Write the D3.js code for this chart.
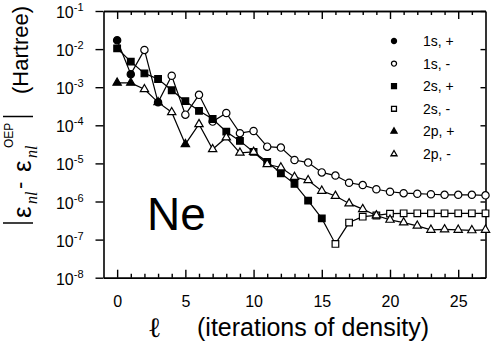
<!DOCTYPE html>
<html>
<head>
<meta charset="utf-8">
<script src="https://cdn.jsdelivr.net/npm/d3@7/dist/d3.min.js"></script>
<style>
  html, body { margin: 0; padding: 0; background: #fff; }
  svg { display: block; font-family: "Liberation Sans", Arial, Helvetica, sans-serif; }
</style>
</head>
<body>
<svg id="chart" width="491" height="362"></svg>
<script>
// iterations of density
const iterations = [0, 1, 2, 3, 4, 5, 6, 7, 8, 9, 10, 11, 12, 13, 14, 15, 16, 17, 18, 19, 20, 21, 22, 23, 24, 25, 26, 27];

// |eps_nl - eps_nl^OEP| in Hartree
const values1s = [1.7e-2, 2.2e-3, 9.5e-3, 4.0e-4, 2.0e-3, 1.9e-4, 6.3e-4, 1.25e-4, 2.1e-4, 6.2e-5,
  7.1e-5, 2.75e-5, 2.6e-5, 1.23e-5, 1.05e-5, 5.8e-6, 4.8e-6, 3.1e-6, 2.7e-6, 2.1e-6,
  1.8e-6, 1.65e-6, 1.6e-6, 1.55e-6, 1.5e-6, 1.5e-6, 1.5e-6, 1.45e-6];
const values2s = [1.05e-2, 4.7e-3, 2.3e-3, 1.64e-3, 8.3e-4, 4.3e-4, 2.4e-4, 1.46e-4, 6.8e-5, 3.9e-5,
  2.0e-5, 1.1e-5, 5.5e-6, 2.9e-6, 1.05e-6, 3.6e-7, 7.7e-8, 2.8e-7, 4.0e-7, 4.3e-7,
  4.8e-7, 4.9e-7, 4.9e-7, 4.9e-7, 4.9e-7, 4.9e-7, 4.9e-7, 4.9e-7];
const values2p = [1.3e-3, 1.3e-3, 8.8e-4, 4.0e-4, 2.2e-4, 3.2e-5, 1.07e-4, 2.35e-5, 4.8e-5, 1.9e-5,
  2.0e-5, 9.5e-6, 7.8e-6, 4.4e-6, 3.6e-6, 1.9e-6, 1.4e-6, 8.9e-7, 6.3e-7, 4.3e-7,
  3.3e-7, 2.8e-7, 2.3e-7, 1.8e-7, 1.85e-7, 1.8e-7, 1.75e-7, 1.8e-7];

// sign of the difference at each iteration (+ filled, - open)
const signs1s = ["+", "+", "-", "+", "-", "-", "-", "-", "-", "-", "-", "-", "-", "-",
  "-", "-", "-", "-", "-", "-", "-", "-", "-", "-", "-", "-", "-", "-"];
const signs2s = ["+", "+", "+", "+", "+", "+", "+", "+", "+", "+", "+", "+", "+", "+",
  "+", "+", "-", "-", "-", "-", "-", "-", "-", "-", "-", "-", "-", "-"];
const signs2p = ["+", "+", "-", "+", "-", "+", "-", "-", "-", "-", "-", "-", "-", "-",
  "-", "-", "-", "-", "-", "-", "-", "-", "-", "-", "-", "-", "-", "-"];

// axis ticks
const xMajorTicks = [0, 5, 10, 15, 20, 25];
const xMinorTicks = [1, 2, 3, 4, 6, 7, 8, 9, 11, 12, 13, 14, 16, 17, 18, 19, 21, 22, 23, 24, 26];
const yExponents = [-1, -2, -3, -4, -5, -6, -7, -8];

const legendLabels = ["1s, +", "1s, -", "2s, +", "2s, -", "2p, +", "2p, -"];

const svg = d3.select("#chart");
const margin = { left: 103.5, right: 485.5, top: 11, bottom: 277.7 };

const x = d3.scaleLinear().domain([-1, 27]).range([margin.left, margin.right]);
const y = d3.scaleLog().domain([1e-8, 1e-1]).range([margin.bottom, margin.top]);
const decades = yExponents.map(e => Math.pow(10, e));

// 坐标轴
function styleAxis(g) {
  g.selectAll("path, line").attr("stroke", "#000").attr("stroke-width", 1.4);
  g.select(".domain").attr("stroke-width", 1.6);
}

// bottom
svg.append("g")
  .attr("transform", `translate(0,${margin.bottom})`)
  .call(d3.axisBottom(x).tickValues(xMinorTicks).tickSizeInner(-4).tickSizeOuter(0).tickFormat(""))
  .call(styleAxis);
svg.append("g")
  .attr("transform", `translate(0,${margin.bottom})`)
  .call(d3.axisBottom(x).tickValues(xMajorTicks).tickSizeInner(-8).tickSizeOuter(0).tickPadding(17.5))
  .call(styleAxis)
  .call(g => g.selectAll("text")
    .attr("font-size", 16)
    .attr("font-family", "Liberation Sans, Arial, sans-serif")
    .attr("fill", "#000"));

// top
svg.append("g")
  .attr("transform", `translate(0,${margin.top})`)
  .call(d3.axisTop(x).tickValues(xMinorTicks).tickSizeInner(-4).tickSizeOuter(0).tickFormat(""))
  .call(styleAxis);
svg.append("g")
  .attr("transform", `translate(0,${margin.top})`)
  .call(d3.axisTop(x).tickValues(xMajorTicks).tickSizeInner(-8).tickSizeOuter(0).tickFormat(""))
  .call(styleAxis);

// left
const leftAxis = svg.append("g")
  .attr("transform", `translate(${margin.left},0)`)
  .call(d3.axisLeft(y).tickValues(decades).tickSizeInner(8).tickSizeOuter(0).tickFormat(""))
  .call(styleAxis);
leftAxis.selectAll(".tick").each(function(d) {
  const t = d3.select(this).append("text")
    .attr("x", -20)
    .attr("y", 6.5)
    .attr("text-anchor", "end")
    .attr("fill", "#000")
    .attr("font-size", 16);
  t.append("tspan").text("10");
  t.append("tspan")
    .attr("font-size", 11)
    .attr("dy", -7)
    .text(Math.round(Math.log10(d)));
});

// right
svg.append("g")
  .attr("transform", `translate(${margin.right},0)`)
  .call(d3.axisRight(y).tickValues(decades).tickSizeInner(-5).tickSizeOuter(0).tickFormat(""))
  .call(styleAxis);

// 数据线与标记
const series = [
  { values: values1s, signs: signs1s, symbol: d3.symbolCircle, size: 42, legendSize: 20 },
  { values: values2s, signs: signs2s, symbol: d3.symbolSquare, size: 44, legendSize: 24 },
  { values: values2p, signs: signs2p, symbol: d3.symbolTriangle, size: 30, legendSize: 16 }
];

const line = d3.line()
  .x(d => x(d.i))
  .y(d => y(d.v));

const plot = svg.append("g");
series.forEach(s => {
  const pts = iterations.map((it, k) => ({ i: it, v: s.values[k], sign: s.signs[k] }));
  plot.append("path")
    .datum(pts)
    .attr("d", line)
    .attr("fill", "none")
    .attr("stroke", "#000")
    .attr("stroke-width", 1.2);
  plot.selectAll(null)
    .data(pts)
    .join("path")
    .attr("d", d3.symbol().type(s.symbol).size(s.size))
    .attr("transform", d => `translate(${x(d.i)},${y(d.v)})`)
    .attr("fill", d => (d.sign === "+" ? "#000" : "#fff"))
    .attr("stroke", "#000")
    .attr("stroke-width", 1.2);
});

// legend
const legend = svg.append("g");
legendLabels.forEach((label, k) => {
  const s = series[Math.floor(k / 2)];
  const filled = label.trim().endsWith("+");
  const cy = 41 + k * 22.6;
  legend.append("path")
    .attr("d", d3.symbol().type(s.symbol).size(s.legendSize))
    .attr("transform", `translate(394,${cy})`)
    .attr("fill", filled ? "#000" : "#fff")
    .attr("stroke", "#000")
    .attr("stroke-width", 1.3);
  legend.append("text")
    .attr("x", 423)
    .attr("y", cy + 5)
    .attr("font-size", 14)
    .attr("fill", "#000")
    .text(label);
});

// Ne
svg.append("text")
  .attr("x", 147)
  .attr("y", 230)
  .attr("font-size", 46)
  .attr("fill", "#000")
  .text("Ne");

// x axis title
svg.append("text")
  .attr("x", 148)
  .attr("y", 337)
  .attr("font-size", 28)
  .attr("font-family", "DejaVu Sans")
  .attr("font-weight", 200)
  .attr("fill", "#000")
  .text("ℓ");
svg.append("text")
  .attr("x", 197)
  .attr("y", 336)
  .attr("font-size", 25)
  .attr("fill", "#000")
  .text("(iterations of density)");

// y axis title
function vtext(px, py, str, size, extra) {
  const t = svg.append("text")
    .attr("transform", `translate(${px},${py}) rotate(-90)`)
    .attr("font-size", size)
    .attr("fill", "#000")
    .text(str);
  if (extra) extra(t);
  return t;
}
const serifItalic = t => t.attr("font-family", "Liberation Serif, serif").attr("font-style", "italic");

svg.append("line").attr("x1", 3).attr("x2", 33).attr("y1", 223).attr("y2", 223)
  .attr("stroke", "#000").attr("stroke-width", 1.5);
svg.append("line").attr("x1", 3).attr("x2", 33).attr("y1", 116.5).attr("y2", 116.5)
  .attr("stroke", "#000").attr("stroke-width", 1.5);
vtext(31, 218, "ε", 26);
vtext(37, 204, "nl", 16, serifItalic);
vtext(27, 189, "-", 22);
vtext(31, 172, "ε", 26);
vtext(37, 158, "nl", 16, serifItalic);
vtext(13, 148, "OEP", 12);
vtext(28, 50, "(Hartree)", 22, t => t.attr("text-anchor", "middle"));
</script>
</body>
</html>
